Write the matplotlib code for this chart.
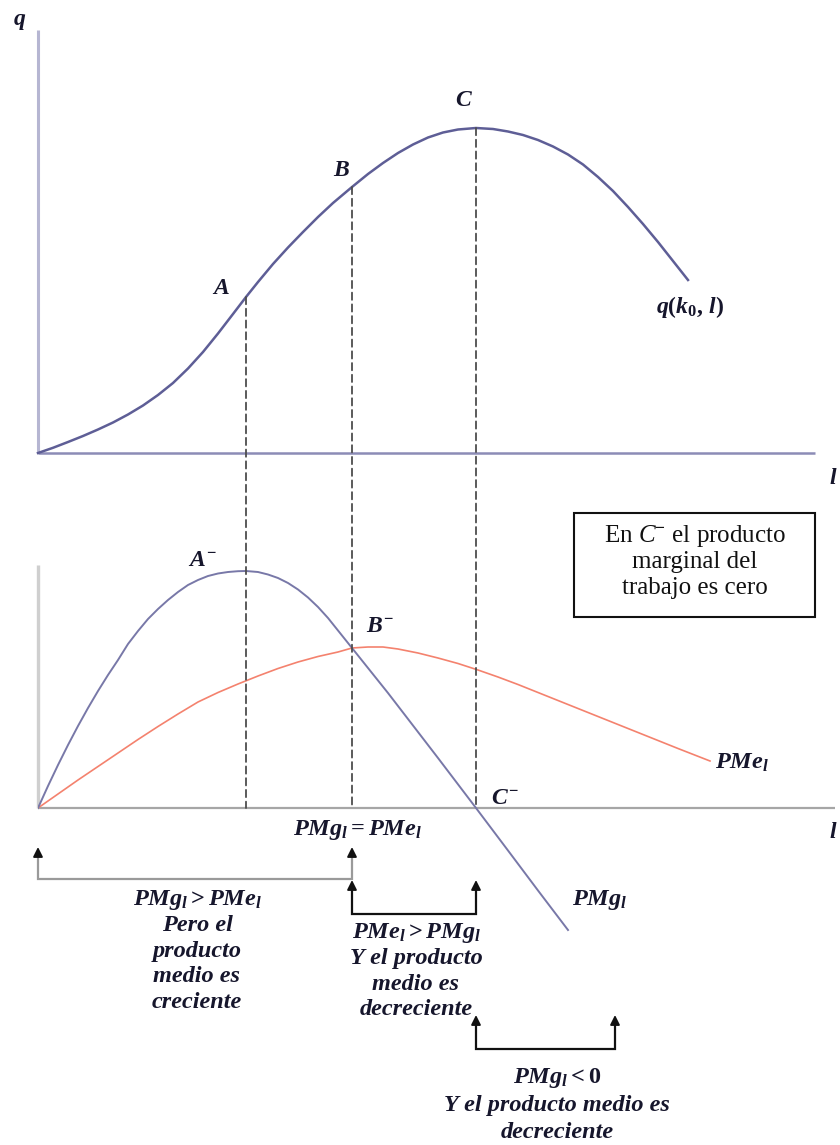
import matplotlib
matplotlib.use("Agg")
import matplotlib.pyplot as plt
from matplotlib.patches import ConnectionPatch, Rectangle

plt.rcParams["font.family"] = ["Liberation Serif", "DejaVu Serif"]
plt.rcParams["mathtext.fontset"] = "custom"
plt.rcParams["mathtext.it"] = "Liberation Serif:italic:bold"
plt.rcParams["mathtext.rm"] = "Liberation Serif:bold"
plt.rcParams["mathtext.bf"] = "Liberation Serif:bold"
plt.rcParams["mathtext.sf"] = "Liberation Serif:italic"

# ---- total product q(k0, l) ----
l_q = [0, 1.5, 3, 4.5, 6, 7.5, 9, 10.5, 12, 13.5, 15, 16.5, 18, 19.5, 20.8,
       22, 23.5, 25, 26.5, 28, 29.5, 31.4, 33, 34.5, 36, 37.5, 39, 40.5, 42, 43.8,
       45.5, 47, 48.5, 50, 51.5, 53, 54.5, 56, 57.5, 59, 60.5, 62, 63.5, 65]
q = [0, 0.52, 1.1, 1.7, 2.35, 3.05, 3.85, 4.75, 5.8, 7.0, 8.45, 10.1, 11.95, 13.9, 15.6,
     17.1, 18.9, 20.55, 22.1, 23.6, 25.0, 26.6, 27.9, 29.0, 30.0, 30.85, 31.55, 32.05, 32.35, 32.5,
     32.4, 32.15, 31.8, 31.3, 30.65, 29.85, 28.85, 27.6, 26.2, 24.6, 22.9, 21.1, 19.2, 17.3]

# ---- marginal product PMg_l ----
l_pmg = [0, 1, 2, 3, 4, 5, 6, 7, 8, 9, 10, 11, 12, 13, 14, 15, 16, 17, 18, 19, 20, 20.8,
         22, 23, 24, 25, 26, 27, 28, 29, 30, 31.4, 33, 35, 37, 40, 43.8, 47, 50, 53]
pmg = [0, 2.2, 4.3, 6.3, 8.2, 10.0, 11.7, 13.3, 14.8, 16.4, 17.7, 18.9, 19.9, 20.8,
       21.6, 22.3, 22.8, 23.2, 23.45, 23.6, 23.68, 23.7,
       23.6, 23.35, 23.0, 22.5, 21.85, 21.05, 20.1, 19.0, 17.75, 16.0, 14.0, 11.5, 8.9,
       5.0, 0, -4.25, -8.25, -12.2]

# ---- average product PMe_l ----
l_pme = [0, 2, 4, 6, 8, 10, 12, 14, 16, 18, 20, 22, 24, 26, 28, 30, 31.4, 33, 34.5,
         36, 38, 40, 42, 44, 46, 48, 50, 52, 54, 56, 58, 60, 62, 64, 67.2]
pme = [0, 1.4, 2.8, 4.15, 5.5, 6.85, 8.15, 9.4, 10.6, 11.55, 12.4, 13.2, 13.95, 14.6,
       15.15, 15.6, 16.0, 16.1, 16.1, 15.9, 15.5, 15.0, 14.45, 13.8, 13.1, 12.35, 11.55,
       10.75, 9.95, 9.15, 8.35, 7.55, 6.75, 5.95, 4.7]

# points A, B, C on q and the end of the PMg<0 range
pt_names = ["A", "B", "C"]
pt_l = [20.8, 31.4, 43.8]
pt_q = [15.6, 26.6, 32.5]
l_end = 57.7

W, H = 840, 1145
fig = plt.figure(figsize=(W / 100, H / 100), dpi=100)


def px_axes(left, top, right, bottom):
    return fig.add_axes([left / W, 1 - bottom / H, (right - left) / W, (bottom - top) / H])


ax_q = px_axes(38, 25, 840, 453)
ax_q.set_xlim(0, 80.2)
ax_q.set_ylim(0, 42.8)
ax_p = px_axes(38, 470, 840, 1145)
ax_p.set_xlim(0, 80.2)
ax_p.set_ylim(-33.7, 33.8)
for ax in (ax_q, ax_p):
    ax.axis("off")

ink = "#16162c"
lab = dict(fontsize=17, fontweight="bold", fontstyle="italic", color=ink,
           ha="center", va="center")
txt = dict(fontsize=17.5, fontweight="bold", fontstyle="italic", color=ink,
           ha="center", va="center")

# ---- top panel: q(k0, l) ----
ax_q.plot([0, 0], [0, 42.3], color="#b6b6d2", lw=2.2, clip_on=False, solid_capstyle="butt")
ax_q.plot([0, 77.7], [0, 0], color="#8c8cb6", lw=1.8, clip_on=False, solid_capstyle="butt")
ax_q.plot(l_q, q, color="#5e5e96", lw=1.8, clip_on=False)
ax_q.text(-1.8, 43.3, "q", **lab)
ax_q.text(79.5, -2.5, "l", **lab)
for i, (dx, dy) in enumerate([(-2.5, 0.9), (-1.1, 1.7), (-1.3, 2.8)]):
    ax_q.text(pt_l[i] + dx, pt_q[i] + dy, pt_names[i], **lab)
ax_q.text(65.2, 14.6, r"$q(k_0,\,l)$", **lab)

# dashed guides from A, B, C down to the l axis of the lower panel
for l0, q0 in zip(pt_l, pt_q):
    con = ConnectionPatch(xyA=(l0, q0), coordsA=ax_q.transData,
                          xyB=(l0, 0), coordsB=ax_p.transData,
                          color="#4d4d4d", lw=1.3, linestyle=(0, (4, 2.5)), zorder=1)
    fig.add_artist(con)

# ---- lower panel: PMg and PMe ----
ax_p.plot([0, 0], [0, 24.3], color="#cfcfcf", lw=2.4, clip_on=False, solid_capstyle="butt")
ax_p.plot([0, 79.7], [0, 0], color="#a6a6a6", lw=1.6, clip_on=False, solid_capstyle="butt")
ax_p.plot(l_pme, pme, color="#f4826e", lw=1.2, zorder=3)
ax_p.plot(l_pmg, pmg, color="#7878a8", lw=1.4, zorder=3)
ax_p.text(79.5, -2.5, "l", **lab)

ax_p.text(16.4, 24.8, r"$A^{-}$", **lab)
ax_p.text(34.2, 18.1, r"$B^{-}$", **lab)
ax_p.text(46.7, 1.0, r"$C^{-}$", **lab)
ax_p.text(70.4, 4.5, r"$PMe_l$", **txt)
ax_p.text(56.2, -9.2, r"$PMg_l$", **txt)
ax_p.text(31.9, -2.2, r"$PMg_l = PMe_l$", **txt)

# note box
ax_p.add_patch(Rectangle((53.6, 19.1), 24.1, 10.4, fill=False, ec="#111111", lw=1.5,
                         clip_on=False))
box_lines = [r"En $\mathsf{C}^{-}$ el producto", "marginal del", "trabajo es cero"]
for i, s in enumerate(box_lines):
    ax_p.text(65.65, 27.2 - i * 2.6, s, fontsize=18, color="#111111",
              ha="center", va="center")


def bracket(x0, x1, y_base, y_tip, color):
    ax_p.plot([x0, x0, x1, x1], [y_tip - 0.5, y_base, y_base, y_tip - 0.5],
              color=color, lw=1.6, clip_on=False, solid_joinstyle="miter")
    for x in (x0, x1):
        ax_p.annotate("", xy=(x, y_tip), xytext=(x, y_tip - 0.9),
                      arrowprops=dict(arrowstyle="-|>", color="#111111", lw=1.4,
                                      mutation_scale=14, shrinkA=0, shrinkB=0))


def stacked(x, y_top, lines, step=2.55):
    for i, s in enumerate(lines):
        ax_p.text(x, y_top - i * step, s, **txt)


bracket(0, pt_l[1], -7.1, -3.9, "#9a9a9a")
bracket(pt_l[1], pt_l[2], -10.6, -7.2, "#111111")
bracket(pt_l[2], l_end, -24.1, -20.7, "#111111")

stacked(15.9, -9.2, [r"$PMg_l > PMe_l$", "Pero el", "producto", "medio es", "creciente"])
stacked(37.8, -12.5, [r"$PMe_l > PMg_l$", "Y el producto", "medio es", "decreciente"])
stacked(51.9, -27.0, [r"$PMg_l < 0$", "Y el producto medio es", "decreciente"], step=2.7)

fig.savefig("out.png", dpi=100)
